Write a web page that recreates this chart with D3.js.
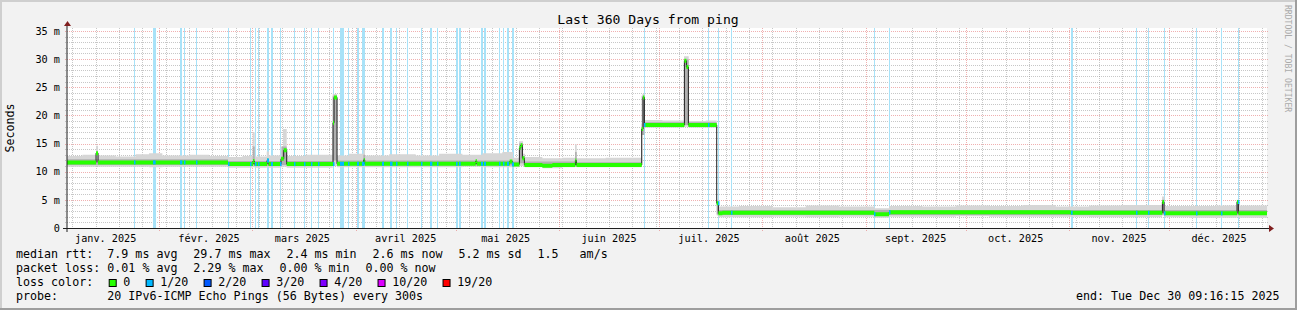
<!DOCTYPE html>
<html>
<head>
<meta charset="utf-8">
<script src="https://cdn.jsdelivr.net/npm/d3@7"></script>
<style>
  html, body { margin: 0; padding: 0; background: #f2f2f2; }
  svg { display: block; font-family: "DejaVu Sans Mono", monospace; }
  text { white-space: pre; }
</style>
</head>
<body>
<div id="chart"></div>
<script>
// all times are days since 2025-01-01 00:00, all values in ms
const startTime = Date.UTC(2025, 0, 4, 9, 16, 15)
const endTime = Date.UTC(2025, 11, 30, 9, 16, 15)

const monthLabels = ["janv. 2025", "févr. 2025", "mars 2025", "avril 2025", "mai 2025", "juin 2025",
  "juil. 2025", "août 2025", "sept. 2025", "oct. 2025", "nov. 2025", "déc. 2025"]
const yTicks = [0, 5, 10, 15, 20, 25, 30, 35]
const yTickLabels = ["0", "5 m", "10 m", "15 m", "20 m", "25 m", "30 m", "35 m"]

// median rtt, step series [day, ms]
const median = [
  [3.39, 11.65], [12.1, 13.3], [12.7, 11.65], [51.7, 11.35], [59.2, 11.9], [59.6, 11.35],
  [63.4, 12.0], [63.8, 11.35], [67.6, 12.3], [68.4, 13.8], [69.3, 11.35], [83.2, 18.7],
  [83.5, 23.2], [84.4, 11.4], [92.4, 12.1], [92.7, 11.4], [126.0, 11.9], [126.3, 11.4],
  [136.2, 11.8], [137.0, 11.3], [139.1, 14.2], [139.5, 14.7], [140.0, 12.4], [140.6, 11.2],
  [146.0, 11.05], [149.0, 11.2], [155.9, 12.0], [156.2, 11.2], [175.8, 17.6], [176.2, 23.2],
  [176.6, 18.3], [188.6, 29.7], [189.2, 28.6], [189.8, 18.3], [198.3, 4.4], [198.8, 2.6],
  [200.0, 2.7], [245.6, 2.45], [250.0, 2.8], [304.5, 2.7], [332.0, 4.6], [332.5, 2.6],
  [354.4, 4.6], [354.8, 2.6], [363.39, 2.6]
]

// outer smoke (light grey), [day, low, high]
const smokeOuter = [
  [3.39, 10.9, 12.8], [8.0, 10.9, 13.0], [12.1, 11.0, 14.6], [12.7, 10.9, 12.9], [18.0, 10.9, 12.7],
  [24.0, 10.9, 13.1], [28.0, 10.8, 13.3], [32.0, 10.9, 12.9], [40.0, 10.9, 13.0], [46.0, 10.9, 12.8],
  [51.7, 10.7, 12.6], [56.0, 10.7, 12.8], [59.1, 10.8, 17.0], [59.7, 10.7, 12.7], [63.3, 10.8, 13.6],
  [64.0, 10.7, 12.9], [67.5, 10.8, 14.5], [68.2, 10.9, 17.6], [69.3, 10.7, 12.8], [75.0, 10.7, 13.0],
  [83.1, 11.0, 23.8], [84.4, 10.8, 12.9], [88.0, 10.8, 13.2], [92.3, 10.8, 14.1], [92.8, 10.8, 12.9],
  [100.0, 10.8, 13.1], [108.0, 10.8, 12.9], [115.0, 10.8, 13.2], [122.0, 10.9, 13.0], [128.0, 10.8, 13.3],
  [134.0, 10.8, 13.5], [137.2, 10.8, 12.5], [139.0, 11.0, 15.4], [140.2, 10.9, 13.2], [140.8, 10.8, 12.6],
  [146.0, 10.6, 12.4], [152.0, 10.8, 12.5], [155.8, 10.9, 14.9], [156.3, 10.8, 12.4], [165.0, 10.8, 12.5],
  [175.7, 11.2, 18.5], [176.0, 17.5, 23.8], [176.6, 17.8, 19.2], [182.0, 17.8, 19.1], [188.5, 18.0, 30.5],
  [189.9, 17.8, 19.0], [195.0, 17.8, 19.1], [198.3, 2.2, 5.0], [198.8, 1.9, 3.8], [205.0, 1.9, 3.9],
  [215.0, 2.0, 3.7], [225.0, 1.9, 4.0], [235.0, 2.0, 3.8], [245.6, 1.8, 3.5], [250.0, 2.0, 3.9],
  [260.0, 2.0, 3.8], [270.0, 2.1, 4.0], [280.0, 2.0, 3.9], [290.0, 2.0, 4.1], [300.0, 2.0, 3.8],
  [310.0, 1.9, 4.0], [320.0, 1.9, 4.1], [331.9, 2.2, 5.6], [332.6, 1.9, 3.9], [340.0, 1.8, 3.9],
  [348.0, 1.8, 4.0], [354.3, 2.0, 5.0], [354.9, 1.8, 4.0], [363.39, 1.8, 4.0]
]

// inner smoke (mid grey), [day, low, high]
const smokeInner = [
  [3.39, 11.2, 12.2], [51.7, 11.0, 11.9], [59.1, 11.1, 14.5], [59.7, 11.0, 11.9], [67.8, 11.2, 14.5],
  [69.3, 11.0, 11.9], [83.1, 12.0, 23.5], [84.4, 11.1, 12.0], [92.3, 11.2, 13.0], [92.8, 11.1, 12.0],
  [137.2, 11.0, 11.8], [139.0, 11.5, 15.0], [140.2, 11.5, 12.8], [140.8, 10.9, 11.8], [155.8, 11.1, 13.5],
  [156.3, 10.9, 11.7], [175.8, 16.5, 23.5], [176.6, 18.0, 18.8], [188.5, 18.3, 30.0], [189.9, 18.0, 18.8],
  [198.3, 2.4, 4.6], [198.8, 2.3, 3.2], [331.9, 2.4, 5.0], [332.6, 2.3, 3.2], [354.3, 2.3, 4.8],
  [354.9, 2.3, 3.2], [363.39, 2.3, 3.2]
]

// packet loss 1/20 events, [day, duration in days]
const lossEvents = [
  [23.6, 0.3], [29.1, 0.8], [37.4, 0.7], [38.6, 0.3], [42.0, 0.3], [51.7, 0.3], [58.4, 0.3],
  [59.9, 0.3], [60.8, 0.3], [63.4, 0.6], [64.6, 0.6], [67.4, 0.3], [71.5, 0.3], [74.5, 0.3],
  [76.5, 0.3], [78.6, 0.3], [83.1, 0.3], [85.3, 1.2], [87.6, 0.3], [90.3, 0.6], [91.8, 0.8],
  [98.0, 0.6], [100.2, 0.3], [100.7, 0.4], [102.2, 0.3], [105.5, 0.3], [109.6, 0.3], [112.3, 0.7],
  [114.4, 0.3], [120.2, 0.5], [121.1, 0.5], [127.6, 0.6], [128.5, 0.6], [133.1, 0.3], [134.3, 0.3],
  [135.4, 0.6], [137.0, 0.6], [176.6, 0.3], [195.6, 0.3], [198.7, 0.3], [202.5, 0.3], [245.6, 0.3],
  [250.1, 0.3], [304.5, 0.5], [324.1, 0.3], [327.8, 0.3], [332.6, 0.3], [342.1, 0.3], [349.5, 0.3],
  [354.6, 0.3]
]

const rttValues = ["7.9", "29.7", "2.4", "2.6", "5.2"]
const rttKeys = ["avg", "max", "min", "now", "sd"]
const amsValue = "1.5"
const lossValues = ["0.01", "2.29", "0.00", "0.00"]
const lossKeys = ["avg", "max", "min", "now"]
const lossLabels = ["0", "1/20", "2/20", "3/20", "4/20", "10/20", "19/20"]
const lossColors = ["#26ff00", "#00b8ff", "#0059ff", "#5e00ff", "#7e00ff", "#dd00ff", "#ff0000"]

const W = 1297, H = 310
const plotLeft = 67, plotTop = 28, plotW = 1200, plotH = 200
const dayMs = 864e5
const day0 = Date.UTC(2025, 0, 1)
const toDate = (d) => new Date(day0 + d * dayMs)

const x = d3.scaleUtc().domain([startTime, endTime]).range([plotLeft, plotLeft + plotW])
const y = d3.scaleLinear().domain([0, 35.53]).range([plotTop + plotH, plotTop])

const svg = d3.select("#chart").append("svg").attr("width", W).attr("height", H)

// canvas + 3d border
svg.append("rect").attr("width", W).attr("height", H).attr("fill", "#f2f2f2")
svg.append("rect").attr("width", W).attr("height", 2).attr("fill", "#cfcfcf")
svg.append("rect").attr("width", 2).attr("height", H).attr("fill", "#cfcfcf")
svg.append("rect").attr("y", H - 2).attr("width", W).attr("height", 2).attr("fill", "#9e9e9e")
svg.append("rect").attr("x", W - 2).attr("width", 2).attr("height", H).attr("fill", "#9e9e9e")

svg.append("rect")
  .attr("x", plotLeft).attr("y", plotTop).attr("width", plotW).attr("height", plotH)
  .attr("fill", "#fff")

// grid
const grid = svg.append("g").attr("stroke-dasharray", "1,1").attr("shape-rendering", "crispEdges")
const minorCol = "rgba(143,143,143,0.5)"
const majorCol = "rgba(222,79,79,0.45)"

d3.range(1, 36).forEach(v => {
  const yy = Math.round(y(v)) + 0.5
  grid.append("line")
    .attr("x1", plotLeft - 2).attr("x2", plotLeft + plotW + 2)
    .attr("y1", yy).attr("y2", yy)
    .attr("stroke", v % 5 === 0 ? majorCol : minorCol)
})

const months = d3.utcMonth.range(new Date(startTime), new Date(endTime))
const monthKeys = new Set(months.map(m => +m))
d3.utcMonday.range(new Date(startTime), new Date(endTime))
  .filter(d => !monthKeys.has(+d))
  .forEach(d => {
    const xx = Math.round(x(d)) + 0.5
    grid.append("line")
      .attr("x1", xx).attr("x2", xx)
      .attr("y1", plotTop).attr("y2", plotTop + plotH + 2)
      .attr("stroke", minorCol)
  })
months.forEach(d => {
  const xx = Math.round(x(d)) + 0.5
  grid.append("line")
    .attr("x1", xx).attr("x2", xx)
    .attr("y1", plotTop).attr("y2", plotTop + plotH + 3)
    .attr("stroke", majorCol)
})

// loss background bars
svg.append("g")
  .selectAll("rect")
  .data(lossEvents)
  .join("rect")
  .attr("x", d => Math.round(x(toDate(d[0]))))
  .attr("y", plotTop)
  .attr("width", d => Math.max(1, Math.round(x(toDate(d[0] + d[1])) - x(toDate(d[0])))))
  .attr("height", plotH)
  .attr("fill", "#a8e2f8")

// smoke
const smokeArea = (
  d3.area()
  .curve(d3.curveStepAfter)
  .x(d => x(toDate(d[0])))
  .y0(d => y(d[1]))
  .y1(d => y(d[2]))
)
svg.append("path").attr("d", smokeArea(smokeOuter)).attr("fill", "#d6d6d6")
svg.append("path").attr("d", smokeArea(smokeInner)).attr("fill", "#b0b0b0")

// median line + loss coloured band
const medLine = (
  d3.line()
  .curve(d3.curveStepAfter)
  .x(d => x(toDate(d[0])))
  .y(d => y(d[1]))
)
svg.append("path")
  .attr("d", medLine(median))
  .attr("fill", "none")
  .attr("stroke", "#202020")
  .attr("stroke-width", 1)

const medBand = (
  d3.area()
  .curve(d3.curveStepAfter)
  .x(d => x(toDate(d[0])))
  .y0(d => y(d[1]) + 2)
  .y1(d => y(d[1]) - 2)
)
svg.append("path").attr("d", medBand(median)).attr("fill", lossColors[0])

const bisect = d3.bisector(d => d[0]).right
const medianAt = (day) => median[Math.max(0, bisect(median, day) - 1)][1]

svg.append("g")
  .selectAll("rect")
  .data(lossEvents)
  .join("rect")
  .attr("x", d => Math.round(x(toDate(d[0]))))
  .attr("y", d => y(medianAt(d[0])) - 2)
  .attr("width", d => Math.max(1.5, x(toDate(d[0] + d[1])) - x(toDate(d[0]))))
  .attr("height", 4)
  .attr("fill", lossColors[1])

// axes and arrows
svg.append("line")
  .attr("x1", plotLeft - 4).attr("x2", plotLeft + plotW + 4)
  .attr("y1", plotTop + plotH + 0.5).attr("y2", plotTop + plotH + 0.5)
  .attr("stroke", "#1f1f1f")
svg.append("line")
  .attr("x1", plotLeft).attr("x2", plotLeft)
  .attr("y1", plotTop + plotH + 4).attr("y2", plotTop - 4)
  .attr("stroke", "#1f1f1f")
svg.append("path")
  .attr("d", `M${plotLeft + plotW + 2},${plotTop + plotH - 3}L${plotLeft + plotW + 7},${plotTop + plotH + 0.5}L${plotLeft + plotW + 2},${plotTop + plotH + 4}Z`)
  .attr("fill", "#801f1f")
svg.append("path")
  .attr("d", `M${plotLeft - 3},${plotTop - 2}L${plotLeft + 0.5},${plotTop - 7}L${plotLeft + 4},${plotTop - 2}Z`)
  .attr("fill", "#801f1f")

// axis labels
svg.append("g")
  .attr("font-size", "10.2px")
  .attr("text-anchor", "end")
  .selectAll("text")
  .data(yTicks)
  .join("text")
  .attr("x", 60)
  .attr("y", d => y(d) + 3.7)
  .text((d, i) => yTickLabels[i])

const monthStarts = d3.utcMonth.range(d3.utcMonth.floor(new Date(startTime)), new Date(endTime))
svg.append("g")
  .attr("font-size", "10.2px")
  .attr("text-anchor", "middle")
  .selectAll("text")
  .data(monthStarts)
  .join("text")
  .attr("x", d => x(d3.utcDay.offset(d, 15)))
  .attr("y", 242)
  .text((d, i) => monthLabels[i])

svg.append("text")
  .attr("x", 648).attr("y", 23.5)
  .attr("font-size", "13.1px")
  .attr("text-anchor", "middle")
  .text("Last 360 Days from ping")

svg.append("text")
  .attr("transform", "translate(14,128) rotate(-90)")
  .attr("font-size", "11.66px")
  .attr("text-anchor", "middle")
  .text("Seconds")

svg.append("text")
  .attr("transform", "translate(1285,5) rotate(90)")
  .attr("font-size", "8.1px")
  .attr("fill", "#aaaaaa")
  .text("RRDTOOL / TOBI OETIKER")

// legend
const charW = 7.02
const lg = svg.append("g").attr("font-size", "11.66px")
const chunkX = (start, chunks) => {
  let pos = start
  return chunks.map(c => {
    const p = pos
    pos += (c.length + 2) * charW + 1.8
    return p
  })
}

lg.append("text").attr("x", 16).attr("y", 258).text("median rtt:")
const rttChunks = rttValues.map((v, i) => `${v} ms ${rttKeys[i]}`).concat([`${amsValue}   am/s`])
const rttX = chunkX(107.3, rttChunks)
rttChunks.forEach((c, i) => lg.append("text").attr("x", rttX[i]).attr("y", 258).text(c))

lg.append("text").attr("x", 16).attr("y", 272).text("packet loss:")
const lossChunks = lossValues.map((v, i) => `${v} % ${lossKeys[i]}`)
const lossX = chunkX(107.3, lossChunks)
lossChunks.forEach((c, i) => lg.append("text").attr("x", lossX[i]).attr("y", 272).text(c))

lg.append("text").attr("x", 16).attr("y", 286).text("loss color:")
let sx = 108.7
lossLabels.forEach((l, i) => {
  lg.append("rect")
    .attr("x", sx + 0.5).attr("y", 279.5)
    .attr("width", 7).attr("height", 7)
    .attr("fill", lossColors[i])
    .attr("stroke", "#000")
  lg.append("text").attr("x", sx + 14.6).attr("y", 286).text(l)
  sx += 14.6 + l.length * charW + 15.3
})

lg.append("text").attr("x", 16).attr("y", 300).text("probe:")
lg.append("text").attr("x", 107.3).attr("y", 300).text("20 IPv6-ICMP Echo Pings (56 Bytes) every 300s")
lg.append("text").attr("x", 1279.5).attr("y", 300).attr("text-anchor", "end").text("end: Tue Dec 30 09:16:15 2025")
</script>
</body>
</html>
